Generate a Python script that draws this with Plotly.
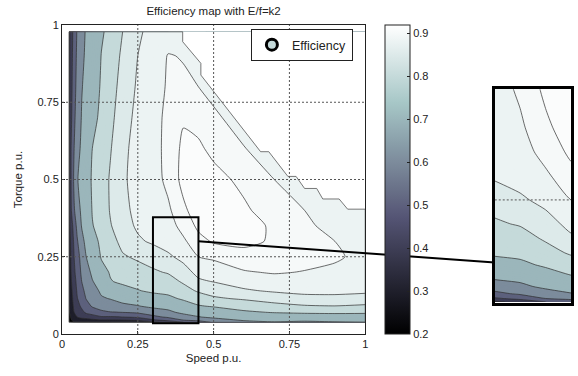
import plotly.graph_objects as go

# ---------------- data ----------------
speed = [0.023, 0.03, 0.04, 0.05, 0.065, 0.08, 0.1, 0.13, 0.16, 0.2, 0.25,
         0.3, 0.35, 0.4, 0.45, 0.5, 0.6, 0.7, 0.8, 0.9, 1.0]
torque = [0.038, 0.045, 0.055, 0.07, 0.09, 0.115, 0.14, 0.17, 0.2, 0.25,
          0.3, 0.35, 0.4, 0.5, 0.6, 0.7, 0.8, 0.9, 0.978]

# efficiency along torque, one list per speed column
eff_by_speed = [
    [.22, .25, .27, .29, .30, .31, .32, .33, .34, .345, .35, .355, .36, .36, .36, .36, .36, .36, .36],
    [.27, .295, .31, .33, .35, .36, .375, .39, .40, .41, .42, .45, .49, .50, .50, .48, .467, .457, .45],
    [.30, .33, .36, .40, .42, .44, .45, .465, .483, .50, .52, .545, .59, .621, .60, .582, .567, .554, .543],
    [.31, .35, .40, .43, .46, .495, .51, .525, .54, .56, .59, .624, .656, .693, .663, .64, .627, .617, .608],
    [.33, .37, .42, .47, .52, .55, .575, .60, .617, .636, .672, .705, .72, .734, .72, .706, .695, .679, .668],
    [.33, .37, .43, .52, .56, .605, .625, .645, .665, .70, .725, .745, .757, .771, .755, .737, .726, .717, .711],
    [.34, .38, .46, .54, .61, .64, .66, .695, .717, .75, .775, .797, .803, .807, .80, .778, .763, .752, .744],
    [.35, .39, .49, .585, .63, .69, .717, .743, .78, .805, .814, .823, .829, .832, .824, .816, .808, .802, .792],
    [.35, .39, .49, .595, .655, .705, .74, .797, .805, .82, .836, .848, .853, .854, .848, .84, .832, .825, .819],
    [.34, .395, .50, .60, .68, .73, .78, .81, .826, .846, .861, .869, .874, .877, .876, .872, .866, .858, .85],
    [.35, .41, .52, .615, .695, .75, .797, .818, .835, .856, .876, .884, .886, .887, .886, .885, .883, .88, .877],
    [.38, .485, .575, .65, .72, .775, .81, .825, .845, .865, .884, .889, .892, .895, .895, .894, .892, .889, .886],
    [.43, .53, .615, .68, .73, .785, .818, .835, .853, .876, .89, .895, .898, .903, .904, .904, .902, .901, .89],
    [.50, .60, .66, .72, .765, .81, .835, .855, .87, .887, .898, .904, .908, .913, .912, .909, .903, .899, .89],
    [.56, .62, .695, .745, .795, .83, .855, .876, .887, .90, .907, .912, .915, .917, .912, .906, .90, .89, .885],
    [.61, .66, .72, .76, .805, .845, .864, .881, .89, .903, .911, .915, .918, .914, .907, .904, .893, .88, .875],
    [.67, .71, .75, .79, .825, .855, .877, .89, .899, .907, .912, .915, .912, .907, .901, .89, .885, .88, .875],
    [.695, .72, .76, .803, .838, .866, .883, .895, .901, .906, .909, .908, .904, .90, .888, .88, .875, .87, .865],
    [.69, .71, .76, .81, .847, .872, .887, .895, .8995, .904, .905, .903, .90, .89, .885, .88, .875, .87, .865],
    [.695, .72, .765, .812, .849, .874, .886, .892, .897, .902, .90, .895, .89, .885, .88, .875, .87, .865, .86],
    [.70, .725, .765, .81, .845, .87, .885, .89, .894, .896, .894, .89, .888, .88, .875, .87, .865, .86, .855],
]

levels = [0.3, 0.4, 0.5, 0.6, 0.7, 0.8, 0.85, 0.88, 0.9, 0.91]

# operating envelope (maximum torque vs speed)
limit_speed = [0.398, 0.398, 0.458, 0.458, 0.655, 0.682, 0.745, 0.772, 0.80, 0.84,
               0.86, 0.914, 0.942, 1.0]
limit_torque = [0.978, 0.946, 0.876, 0.838, 0.59, 0.59, 0.51, 0.51, 0.471, 0.471,
                0.437, 0.437, 0.404, 0.404]

zoom_speed = [0.30, 0.45]
zoom_torque = [0.035, 0.378]
inset_speed = [0.30, 0.45]
inset_torque = [0.035, 0.48]
link_main = [0.45, 0.30]     # connector start (speed, torque) in main axes
link_inset = [0.30, 0.12]    # connector end (speed, torque) in inset axes

axis_ticks = [0, 0.25, 0.5, 0.75, 1]
axis_ticktext = ["0", "0.25", "0.5", "0.75", "1"]
grid_vals = [0.25, 0.5, 0.75]
cbar_ticks = [0.2, 0.3, 0.4, 0.5, 0.6, 0.7, 0.8, 0.9]
cmin, cmax = 0.2, 0.919

# ---------------- helpers ----------------
z = [[eff_by_speed[i][j] for i in range(len(speed))] for j in range(len(torque))]


def bone(t):
    t = min(max(t, 0.0), 1.0)
    hr = min(1.0, t / 0.375)
    hg = min(1.0, max(0.0, (t - 0.375) / 0.375))
    hb = min(1.0, max(0.0, (t - 0.75) / 0.25))
    r, g, b = (7 * t + hb) / 8, (7 * t + hg) / 8, (7 * t + hr) / 8
    return "rgb(%d,%d,%d)" % (round(r * 255), round(g * 255), round(b * 255))


def bone_of(v):
    return bone((v - cmin) / (cmax - cmin))


# continuous colorscale for the colorbar
bone_scale = [[i / 32, bone(i / 32)] for i in range(33)]

# stepped colorscale for the filled contours (domain of plotly's fill map)
c_start, c_end, c_size = 0.2, 0.92, 0.01
d_lo, d_hi = c_start - c_size / 2, c_end + c_size / 2
bounds = [d_lo] + [L - 0.0025 for L in levels] + [d_hi]
region_vals = [cmin] + levels
step_scale = []
for k in range(len(region_vals)):
    p0 = (bounds[k] - d_lo) / (d_hi - d_lo)
    p1 = (bounds[k + 1] - d_lo) / (d_hi - d_lo)
    col = bone_of(region_vals[k])
    step_scale.append([max(0.0, p0), col])
    step_scale.append([min(1.0, p1), col])

# ---------------- layout geometry ----------------
W, H = 578, 376
ml, mr, mt, mb = 62, 4, 25, 42
pw, ph = W - ml - mr, H - mt - mb
main_dom_x = [0, 305 / pw]
inset_dom_x = [(497.3 - ml) / pw, (574 - ml) / pw]
inset_dom_y = [(334 - 303.3) / ph, (334 - 89.3) / ph]

FONT = "Liberation Sans, Arial, sans-serif"
LINE_COL = "#2e2e2e"

fig = go.Figure()


def add_contours(xa, ya):
    fig.add_trace(go.Contour(
        x=speed, y=torque, z=z, xaxis=xa, yaxis=ya,
        autocontour=False,
        contours=dict(start=c_start, end=c_end, size=c_size, coloring="fill", showlines=False),
        colorscale=step_scale, zmin=d_lo, zmax=d_hi, showscale=False,
        line=dict(width=0, smoothing=0.6), hoverinfo="skip", showlegend=False))
    for L in levels:
        fig.add_trace(go.Contour(
            x=speed, y=torque, z=z, xaxis=xa, yaxis=ya,
            autocontour=False,
            contours=dict(start=L, end=L, size=0.1, coloring="none", showlines=True),
            line=dict(color=LINE_COL, width=0.7, smoothing=0.6), showscale=False,
            hoverinfo="skip", showlegend=False))


add_contours("x", "y")
add_contours("x2", "y2")

# mask region beyond the operating envelope
mask_x = limit_speed + [1.0, limit_speed[0]]
mask_y = limit_torque + [limit_torque[0], limit_torque[0]]
fig.add_trace(go.Scatter(x=mask_x, y=mask_y, fill="toself", fillcolor="white",
                         mode="lines", line=dict(width=0), hoverinfo="skip",
                         showlegend=False))
# envelope outline
env_x = [speed[0], speed[-1]] + limit_speed[::-1] + [speed[0], speed[0]]
env_y = [torque[0], torque[0]] + limit_torque[::-1] + [torque[-1], torque[0]]
fig.add_trace(go.Scatter(x=env_x, y=env_y, mode="lines",
                         line=dict(color="#555555", width=0.8),
                         hoverinfo="skip", showlegend=False))

# legend entry
fig.add_trace(go.Scatter(x=[None], y=[None], mode="markers", name="Efficiency",
                         marker=dict(symbol="circle", size=11, color="#c5dada",
                                     line=dict(color="black", width=3)),
                         showlegend=True))

# colorbar carrier
fig.add_trace(go.Scatter(
    x=[0.5], y=[0.5], mode="markers", showlegend=False, hoverinfo="skip",
    marker=dict(size=1, opacity=0, color=[0.5], cmin=cmin, cmax=cmax,
                colorscale=bone_scale, showscale=True,
                colorbar=dict(x=(387.3 - ml) / pw, xanchor="left", xpad=0, ypad=0,
                              y=0.5, yanchor="middle", len=1, lenmode="fraction",
                              thickness=25, outlinewidth=1, outlinecolor="#222",
                              tickvals=cbar_ticks, ticks="inside", ticklen=3,
                              tickcolor="#222",
                              tickfont=dict(family=FONT, size=11, color="#222")))))

# dotted grid lines drawn above the fill
shapes = []
for v in grid_vals:
    shapes.append(dict(type="line", xref="x", yref="y", x0=v, x1=v, y0=0, y1=1,
                       line=dict(color="#555", width=1, dash="2px,2px"), layer="above"))
    shapes.append(dict(type="line", xref="x", yref="y", x0=0, x1=1, y0=v, y1=v,
                       line=dict(color="#555", width=1, dash="2px,2px"), layer="above"))
    if inset_torque[0] < v < inset_torque[1]:
        shapes.append(dict(type="line", xref="x2", yref="y2", x0=inset_speed[0],
                           x1=inset_speed[1], y0=v, y1=v,
                           line=dict(color="#555", width=1, dash="2px,2px"), layer="above"))

# zoom rectangle
shapes.append(dict(type="rect", xref="x", yref="y", x0=zoom_speed[0], x1=zoom_speed[1],
                   y0=zoom_torque[0], y1=zoom_torque[1],
                   line=dict(color="black", width=2), layer="above"))


# connector line (converted to paper coordinates)
def to_paper(xv, yv, xr, yr, dx, dy):
    px = dx[0] + (xv - xr[0]) / (xr[1] - xr[0]) * (dx[1] - dx[0])
    py = dy[0] + (yv - yr[0]) / (yr[1] - yr[0]) * (dy[1] - dy[0])
    return px, py


p0 = to_paper(link_main[0], link_main[1], [0, 1], [0, 1], main_dom_x, [0, 1])
p1 = to_paper(link_inset[0], link_inset[1], inset_speed, inset_torque, inset_dom_x, inset_dom_y)
shapes.append(dict(type="line", xref="paper", yref="paper", x0=p0[0], y0=p0[1],
                   x1=p1[0], y1=p1[1], line=dict(color="black", width=2), layer="above"))

axis_common = dict(showline=True, linecolor="#222", linewidth=1, mirror=True,
                   showgrid=False, zeroline=False, ticks="inside", ticklen=3,
                   tickcolor="#222", tickfont=dict(family=FONT, size=11, color="#222"))

fig.update_layout(
    width=W, height=H,
    margin=dict(l=ml, r=mr, t=mt, b=mb),
    paper_bgcolor="white", plot_bgcolor="white",
    font=dict(family=FONT, size=11, color="#222"),
    title=dict(text="Efficiency map with E/f=k2", x=(main_dom_x[0] + main_dom_x[1]) / 2,
               xref="paper", xanchor="center", y=1 - 11 / H, yref="container",
               yanchor="middle", font=dict(family=FONT, size=11.5, color="#222")),
    xaxis=dict(domain=main_dom_x, range=[0, 1], tickvals=axis_ticks, ticktext=axis_ticktext,
               title=dict(text="Speed p.u.", standoff=4, font=dict(size=11.5)),
               **axis_common),
    yaxis=dict(domain=[0, 1], range=[0, 1], tickvals=axis_ticks, ticktext=axis_ticktext,
               title=dict(text="Torque p.u.", standoff=12, font=dict(size=11.5)),
               **axis_common),
    xaxis2=dict(domain=inset_dom_x, range=inset_speed, anchor="y2", showline=True,
                linecolor="black", linewidth=2.5, mirror=True, showgrid=False,
                zeroline=False, showticklabels=False, ticks=""),
    yaxis2=dict(domain=inset_dom_y, range=inset_torque, anchor="x2", showline=True,
                linecolor="black", linewidth=2.5, mirror=True, showgrid=False,
                zeroline=False, showticklabels=False, ticks=""),
    legend=dict(x=(252 - ml) / pw, y=(334 - 29) / ph, xanchor="left", yanchor="top",
                bgcolor="white", bordercolor="#222", borderwidth=1,
                font=dict(family=FONT, size=12.5, color="#222"),
                itemwidth=30, tracegroupgap=0),
    shapes=shapes,
)

fig.write_html("out.html")
